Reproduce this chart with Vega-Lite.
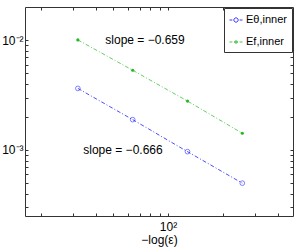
{
  "$schema": "https://vega.github.io/schema/vega-lite/v6.json",
  "width": 268,
  "height": 209,
  "autosize": "none",
  "padding": {"left": 25, "top": 7, "right": 6, "bottom": 33},
  "background": "white",
  "config": {
    "view": {"stroke": null},
    "font": "Liberation Sans",
    "axis": {"grid": false, "domainColor": "#333333", "tickColor": "#333333", "labelColor": "#000000", "labelFont": "Liberation Sans", "titleFont": "Liberation Sans", "titleColor": "#000000", "domainWidth": 1, "tickWidth": 1}
  },
  "datasets": {
    "errors": [
      {"series": "Eθ,inner", "n": 32, "err": 0.00364},
      {"series": "Eθ,inner", "n": 64, "err": 0.00189},
      {"series": "Eθ,inner", "n": 128, "err": 0.000965},
      {"series": "Eθ,inner", "n": 256, "err": 0.000498},
      {"series": "Ef,inner", "n": 32, "err": 0.01007},
      {"series": "Ef,inner", "n": 64, "err": 0.00533},
      {"series": "Ef,inner", "n": 128, "err": 0.00279},
      {"series": "Ef,inner", "n": 256, "err": 0.00142}
    ],
    "notes": [
      {"label": "slope = −0.659", "n": 74.8, "err": 0.01},
      {"label": "slope = −0.666", "n": 56.6, "err": 0.001}
    ]
  },
  "data": {"name": "errors"},
  "resolve": {"axis": {"x": "independent", "y": "independent"}},
  "layer": [
    {
      "transform": [{"filter": "datum.series === 'Eθ,inner'"}],
      "mark": {"type": "line", "color": "#0000ff", "strokeWidth": 0.7, "strokeDash": [4, 2, 1, 2]},
      "encoding": {
        "x": {"field": "n", "type": "quantitative", "scale": {"type": "log", "domain": [16.4, 486], "nice": false, "zero": false},
          "axis": {"orient": "bottom", "values": [20, 30, 40, 50, 60, 70, 80, 90, 100, 200, 300, 400], "labelExpr": "datum.value == 100 ? '10²' : ''", "tickSize": -3, "labelPadding": 8, "labelFontSize": 12, "labelFlush": false, "labelOverlap": false, "title": "−log(ε)", "titleFontSize": 12, "titleFontWeight": "normal", "titlePadding": 2}},
        "y": {"field": "err", "type": "quantitative", "scale": {"type": "log", "domain": [0.00025, 0.0201], "nice": false, "zero": false},
          "axis": {"orient": "left", "values": [0.0003, 0.0004, 0.0005, 0.0006, 0.0007, 0.0008, 0.0009, 0.001, 0.002, 0.003, 0.004, 0.005, 0.006, 0.007, 0.008, 0.009, 0.01], "labelExpr": "datum.value == 0.01 ? '10⁻²' : (datum.value == 0.001 ? '10⁻³' : '')", "tickSize": -3, "labelPadding": 5, "labelFontSize": 12, "labelFlush": false, "labelOverlap": false, "title": null}}
      }
    },
    {
      "transform": [{"filter": "datum.series === 'Ef,inner'"}],
      "mark": {"type": "line", "color": "#22b822", "strokeWidth": 0.7, "strokeDash": [4, 2, 1, 2]},
      "encoding": {
        "x": {"field": "n", "type": "quantitative",
          "axis": {"orient": "top", "values": [20, 30, 40, 50, 60, 70, 80, 90, 100, 200, 300, 400], "labels": false, "tickSize": -3, "title": null}},
        "y": {"field": "err", "type": "quantitative",
          "axis": {"orient": "right", "values": [0.0003, 0.0004, 0.0005, 0.0006, 0.0007, 0.0008, 0.0009, 0.001, 0.002, 0.003, 0.004, 0.005, 0.006, 0.007, 0.008, 0.009, 0.01], "labels": false, "tickSize": -3, "title": null}}
      }
    },
    {
      "transform": [{"filter": "datum.series === 'Eθ,inner'"}],
      "mark": {"type": "point", "shape": "circle", "filled": false, "color": "#0000ff", "strokeWidth": 0.7, "size": 22},
      "encoding": {
        "x": {"field": "n", "type": "quantitative", "axis": null},
        "y": {"field": "err", "type": "quantitative", "axis": null}
      }
    },
    {
      "transform": [{"filter": "datum.series === 'Ef,inner'"}],
      "mark": {"type": "point", "shape": "circle", "filled": true, "color": "#22b822", "opacity": 1, "size": 10},
      "encoding": {
        "x": {"field": "n", "type": "quantitative", "axis": null},
        "y": {"field": "err", "type": "quantitative", "axis": null}
      }
    },
    {
      "mark": {"type": "point", "filled": false, "opacity": 0},
      "encoding": {
        "x": {"field": "n", "type": "quantitative", "axis": null},
        "y": {"field": "err", "type": "quantitative", "axis": null},
        "shape": {"field": "series", "type": "nominal",
          "scale": {"domain": ["Eθ,inner", "Ef,inner"], "range": ["M-1,0H-0.6M-0.5,0H-0.45M0.45,0H0.5M0.6,0H1M-0.33,0A0.33,0.33 0 1,1 0.33,0A0.33,0.33 0 1,1 -0.33,0Z", "M-1,0H-0.6M-0.5,0H-0.45M-0.3,0H0.3M0.45,0H0.5M0.6,0H1M-0.2,0A0.2,0.2 0 1,1 0.2,0A0.2,0.2 0 1,1 -0.2,0Z"]},
          "legend": {"title": null, "orient": "top-right", "offset": 1, "symbolSize": 169, "symbolOpacity": 1, "symbolStrokeWidth": 0.8, "labelFontSize": 11, "labelFont": "Liberation Sans", "labelColor": "#000000", "labelOffset": 3, "rowPadding": 10, "padding": 5, "strokeColor": "#333333", "fillColor": "#ffffff"}},
        "color": {"field": "series", "type": "nominal", "scale": {"domain": ["Eθ,inner", "Ef,inner"], "range": ["#0000ff", "#22b822"]}},
        "fill": {"field": "series", "type": "nominal", "scale": {"domain": ["Eθ,inner", "Ef,inner"], "range": ["rgba(255,255,255,0)", "#22b822"]}}
      }
    },
    {
      "data": {"name": "notes"},
      "mark": {"type": "text", "align": "center", "baseline": "middle", "fontSize": 12, "font": "Liberation Sans", "color": "#000000"},
      "encoding": {
        "x": {"field": "n", "type": "quantitative", "axis": null},
        "y": {"field": "err", "type": "quantitative", "axis": null},
        "text": {"field": "label"}
      }
    }
  ]
}
